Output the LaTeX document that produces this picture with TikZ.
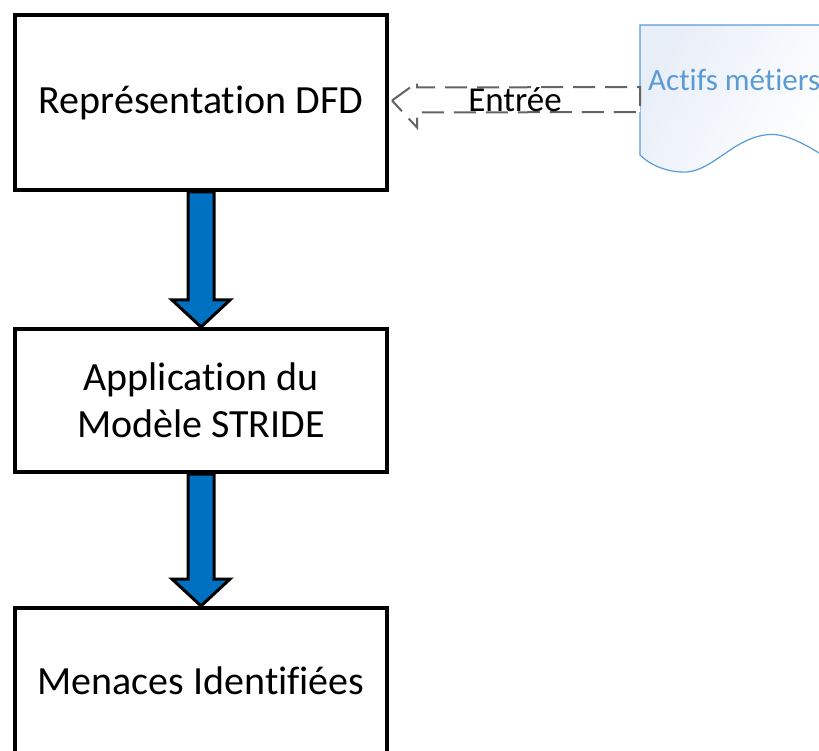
\documentclass[tikz,border=0pt]{standalone}
\usepackage{fontspec}
\setmainfont[Ligatures=NoCommon]{Carlito}
\usetikzlibrary{calc}
\definecolor{arrowblue}{RGB}{0,112,192}
\definecolor{docblue}{RGB}{91,155,213}
\definecolor{docfill}{RGB}{232,238,248}
\definecolor{dashgray}{RGB}{100,100,100}
\tikzset{
  stepbox/.style={draw=black, line width=4pt, fill=white, minimum width=372pt, inner sep=0pt, align=center, font=\fontsize{40}{47}\selectfont},
  blockarrow/.style={draw=black, line width=3pt, fill=arrowblue, line join=miter},
  openarrow/.style={draw=dashgray, line width=2pt, dash pattern=on 22pt off 10pt, fill=white, line join=miter},
}
\begin{document}
\begin{tikzpicture}[x=1pt,y=-1pt]
\useasboundingbox (0,0) rectangle (819,751);
\clip (0,0) rectangle (819,751);
% boxes
\node[stepbox, minimum height=175pt] (b1) at (201,102.5) {Représentation DFD};
\node[stepbox, minimum height=143pt] (b2) at (201,400.5) {Application du\\Modèle STRIDE};
\node[stepbox, minimum height=146pt] (b3) at (201,681) {Menaces Identifiées};
% block arrows
\draw[blockarrow] ($(b1.south)+(-13,0)$) -- ($(b1.south)+(13,0)$) -- ($(b2.north)+(13,-27)$) -- ($(b2.north)+(29,-27)$) -- (b2.north) -- ($(b2.north)+(-29,-27)$) -- ($(b2.north)+(-13,-27)$) -- cycle;
\draw[blockarrow] ($(b2.south)+(-13,0)$) -- ($(b2.south)+(13,0)$) -- ($(b3.north)+(13,-27)$) -- ($(b3.north)+(29,-27)$) -- (b3.north) -- ($(b3.north)+(-29,-27)$) -- ($(b3.north)+(-13,-27)$) -- cycle;
% document shape
\shade[left color=docfill, right color=white, shading angle=60]
  (640,25) -- (830,25) -- (830,160) .. controls (800,140) and (780,132) .. (765,135)
  .. controls (730,140) and (710,175) .. (680,172) .. controls (665,171) and (650,165) .. (640,155) -- cycle;
\draw[docblue, line width=1.2pt]
  (830,25) -- (640,25) -- (640,155) .. controls (650,165) and (665,171) .. (680,172)
  .. controls (710,175) and (730,140) .. (765,135) .. controls (780,132) and (800,140) .. (830,160);
\node[anchor=west, text=docblue, font=\fontsize{31}{36}\selectfont, inner sep=0pt] (doc) at (648,80) {Actifs métiers};
\coordinate (docL) at (640,100);
% open dashed arrow
\draw[openarrow] ($(b1.east)+(3,-2)$) -- ++(25,-18) -- ++(0,5) -- ($(docL)+(0,-13)$) -- ($(docL)+(0,12)$) -- ($(b1.east)+(28,10)$) -- ++(0,15) -- cycle;
\node[font=\fontsize{35}{40}\selectfont, inner sep=0pt] (lab) at (515,100) {Entrée};
\end{tikzpicture}
\end{document}
